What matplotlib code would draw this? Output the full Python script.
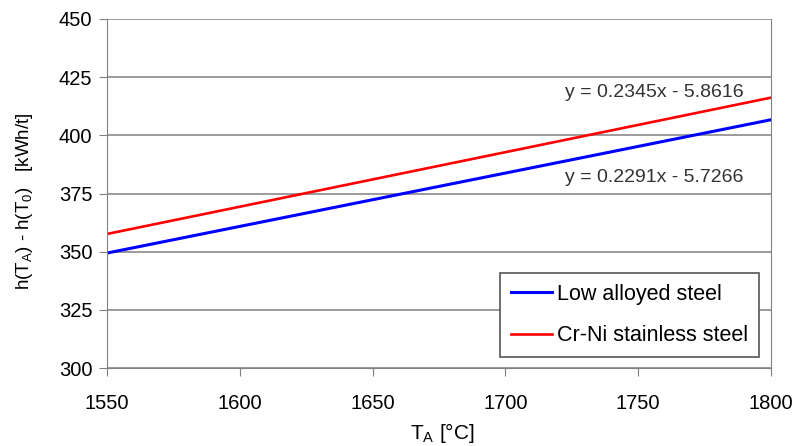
import numpy as np
import matplotlib.pyplot as plt

plt.rcParams['font.family'] = ['Liberation Sans', 'DejaVu Sans']

# data
temps = [1550, 1800]
low_alloyed = [349.4, 406.7]
cr_ni = [357.6, 416.2]
eq_low = "y = 0.2291x - 5.7266"
eq_crni = "y = 0.2345x - 5.8616"
xticks = [1550, 1600, 1650, 1700, 1750, 1800]
yticks = [300, 325, 350, 375, 400, 425, 450]

fig = plt.figure(figsize=(7.95, 4.46), dpi=100)
ax = fig.add_axes([107/795, 1 - 368/446, 664/795, 349/446])

for y in yticks:
    ax.axhline(y, color='#808080', lw=1.1, zorder=0)

ax.plot(temps, low_alloyed, color='#0000ff', lw=2.2, label='Low alloyed steel')
ax.plot(temps, cr_ni, color='#ff0000', lw=1.9, label='Cr-Ni stainless steel')

ax.text(1756, 418.6, eq_crni, ha='center', va='center', fontsize=14, color='#333333')
ax.text(1756, 382, eq_low, ha='center', va='center', fontsize=14, color='#333333')

ax.set_xlim(1550, 1800)
ax.set_ylim(300, 450)
ax.set_xticks(xticks)
ax.set_yticks(yticks)
ax.tick_params(labelsize=14.5, length=5.5, color='#808080', direction='out')
ax.tick_params(axis='x', pad=13)
ax.tick_params(axis='y', pad=5)

for s in ['left', 'bottom', 'right']:
    ax.spines[s].set_color('#808080')
ax.spines['top'].set_visible(False)

ax.set_xlabel(r'T$_\mathregular{A}$ [°C]', fontsize=15)
ax.set_ylabel(r'h(T$_\mathregular{A}$) - h(T$_\mathregular{0}$)   [kWh/t]', fontsize=13.5)
ax.xaxis.set_label_coords(0.5 + 3/664, -0.153)
ax.yaxis.set_label_coords(-0.108, 0.478)

leg = ax.legend(loc='upper left', bbox_to_anchor=(0.592, 0.272), borderaxespad=0, fontsize=15.5,
                frameon=True, fancybox=False, edgecolor='#555555', framealpha=1,
                handlelength=1.9, handletextpad=0.25, borderpad=0.5, labelspacing=0.95)
leg.get_frame().set_linewidth(1.2)

fig.savefig('out.png', dpi=100)
